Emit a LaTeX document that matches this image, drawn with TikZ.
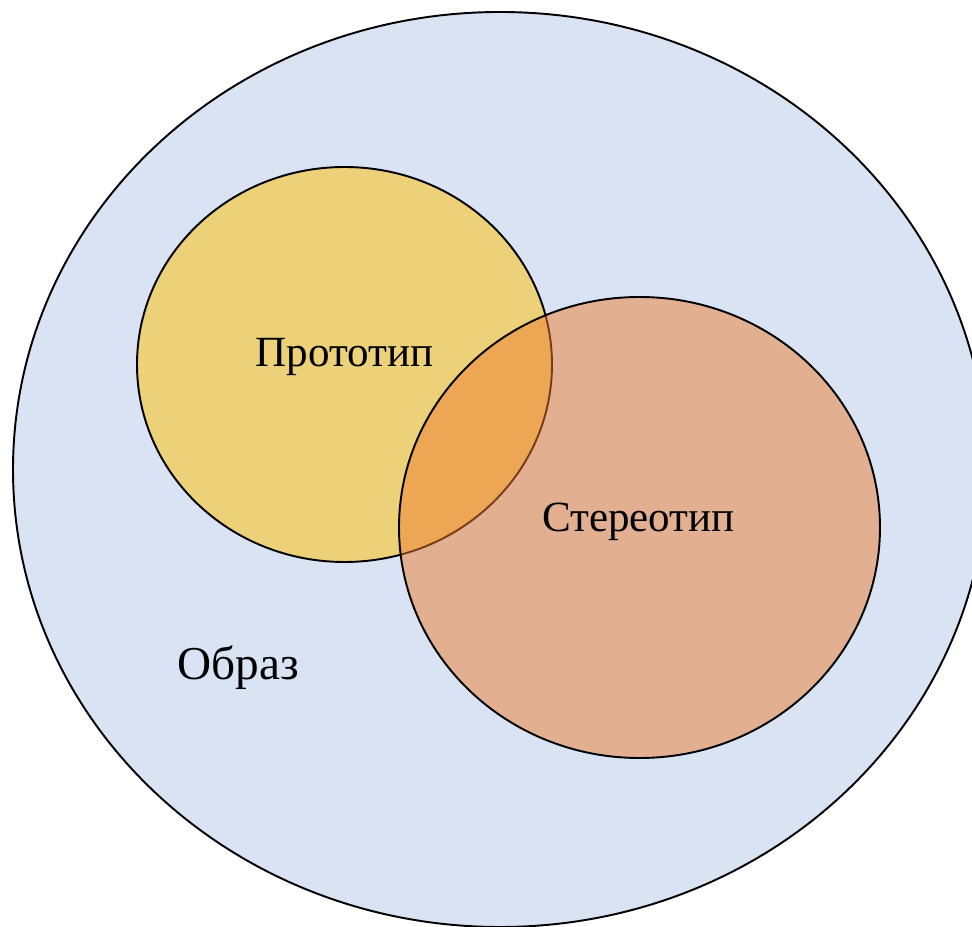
\documentclass[tikz,border=0pt]{standalone}
\usepackage{fontspec}
\setmainfont{Liberation Serif}
\definecolor{bgblue}{HTML}{DAE3F3}
\definecolor{gold}{HTML}{FFC000}
\definecolor{office}{HTML}{ED7D31}
\begin{document}
\begin{tikzpicture}[x=0.75pt,y=-0.75pt,
  ring/.style={draw=black,line width=1.45pt},
  lbl/.style={font=\fontsize{32.3}{38}\selectfont,anchor=base,inner sep=0pt}]
\useasboundingbox (0,0) rectangle (972,927);
\path[ring,fill=bgblue] (500,469.5) ellipse [x radius=365.25pt,y radius=343.125pt];
\path[ring,fill=gold,fill opacity=0.5] (344.5,364.5) ellipse [x radius=155.625pt,y radius=148.125pt];
\path[ring,fill=office,fill opacity=0.5] (639.5,527.5) ellipse [x radius=180.375pt,y radius=172.875pt];
\node[lbl] (proto) at (344.5,367) {Прототип};
\node[lbl] (stereo) at (638.5,532) {Стереотип};
\node[lbl,font=\fontsize{35.4}{42}\selectfont] (obraz) at (238,679) {Образ};
\end{tikzpicture}
\end{document}
